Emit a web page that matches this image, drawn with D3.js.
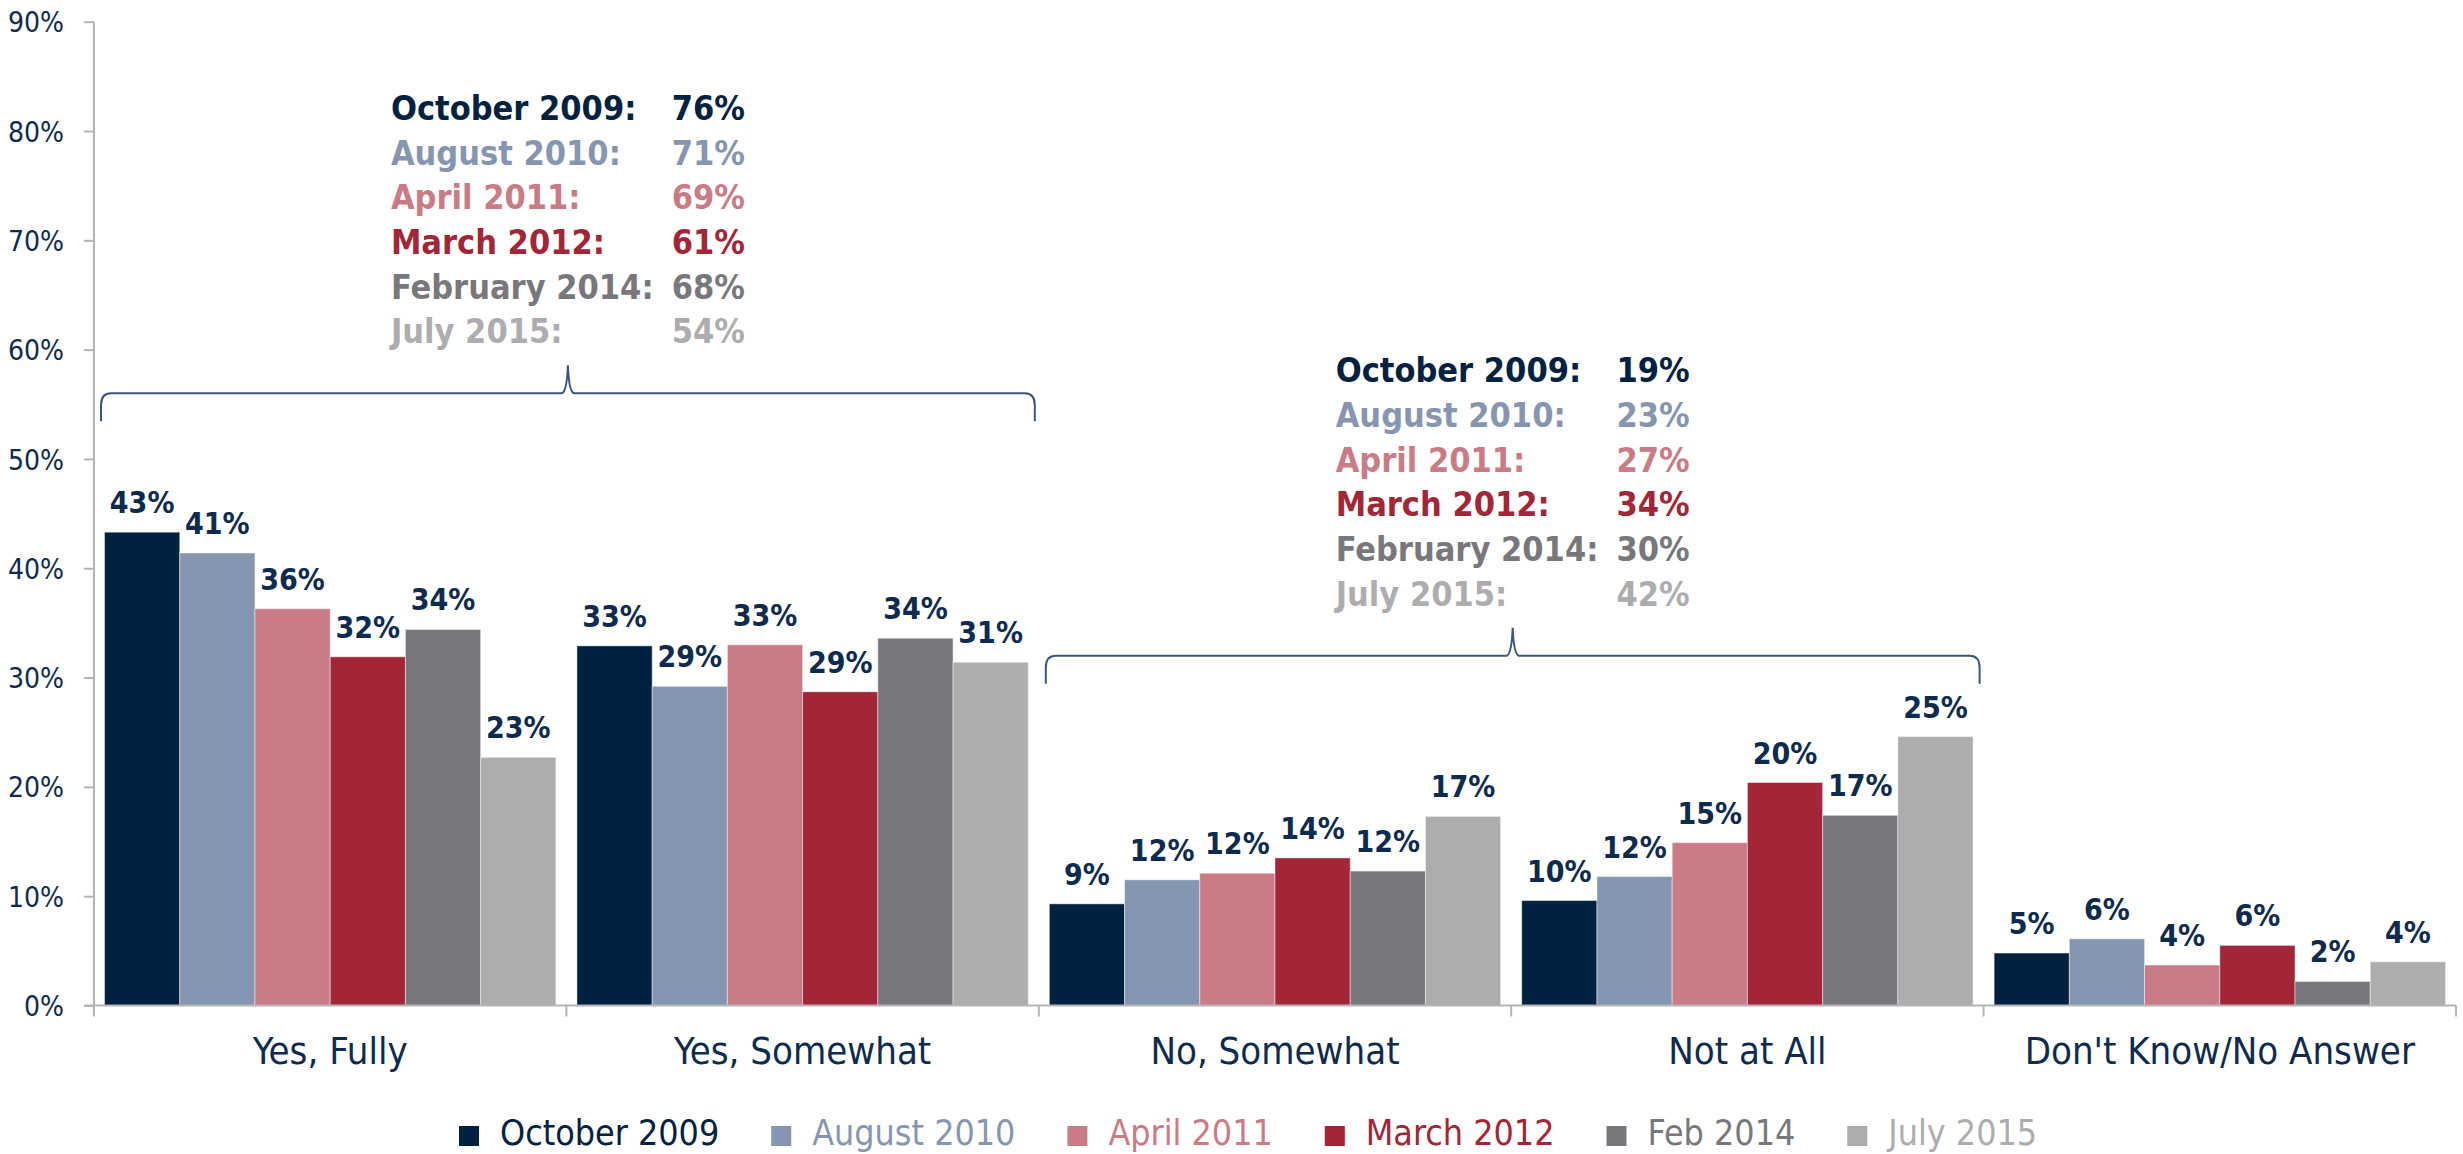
<!DOCTYPE html>
<html>
<head>
<meta charset="utf-8">
<script src="https://cdn.jsdelivr.net/npm/d3@7"></script>
<style>
  html, body { margin: 0; padding: 0; background: #fff; }
  text { font-family: "DejaVu Sans Condensed", "DejaVu Sans", sans-serif; }
</style>
</head>
<body>
<svg id="chart"></svg>
<script>
// answer categories along the x axis
var categories = ["Yes, Fully", "Yes, Somewhat", "No, Somewhat", "Not at All", "Don't Know/No Answer"];

// survey waves (legend names)
var waves = ["October 2009", "August 2010", "April 2011", "March 2012", "Feb 2014", "July 2015"];
var waveNames = ["October 2009:", "August 2010:", "April 2011:", "March 2012:", "February 2014:", "July 2015:"];
var waveColors = ["#00213f", "#8696b0", "#c97b86", "#a22538", "#78787c", "#adadaf"];

// bar heights in percent, one array per wave, in category order
var oct2009 = [43.3, 32.9, 9.3, 9.6, 4.8];
var aug2010 = [41.4, 29.2, 11.5, 11.8, 6.1];
var apr2011 = [36.3, 33.0, 12.1, 14.9, 3.7];
var mar2012 = [31.9, 28.7, 13.5, 20.4, 5.5];
var feb2014 = [34.4, 33.6, 12.3, 17.4, 2.2];
var jul2015 = [22.7, 31.4, 17.3, 24.6, 4.0];

// printed labels on the bars
var oct2009Lbl = [43, 33, 9, 10, 5];
var aug2010Lbl = [41, 29, 12, 12, 6];
var apr2011Lbl = [36, 33, 12, 15, 4];
var mar2012Lbl = [32, 29, 14, 20, 6];
var feb2014Lbl = [34, 34, 12, 17, 2];
var jul2015Lbl = [23, 31, 17, 25, 4];

// totals shown above the braces
var yesTotals = [76, 71, 69, 61, 68, 54];
var noTotals = [19, 23, 27, 34, 30, 42];

var yTicks = [0, 10, 20, 30, 40, 50, 60, 70, 80, 90];

var values = [oct2009, aug2010, apr2011, mar2012, feb2014, jul2015];
var labels = [oct2009Lbl, aug2010Lbl, apr2011Lbl, mar2012Lbl, feb2014Lbl, jul2015Lbl];

function makeChart() {
    var W = 2463, H = 1154;
    var navy = "#0d2b4e";
    var axisGrey = "#b5b5b5";

    var svg = d3.select("#chart").attr("width", W).attr("height", H);

    var x0 = d3.scaleBand().domain(categories).range([94, 2456]);
    var x1 = d3.scaleBand().domain(d3.range(waves.length))
        .range([0, x0.bandwidth()]).paddingInner(0).paddingOuter(0.14);
    var y = d3.scaleLinear().domain([0, 90]).range([1005.5, 21.7]);

    // flatten into one row per bar
    var bars = [];
    categories.forEach(function (c, ci) {
        waves.forEach(function (w, wi) {
            bars.push({ cat: c, wave: wi, v: values[wi][ci], lbl: labels[wi][ci] });
        });
    });

    // y axis
    var yAxis = svg.append("g")
        .attr("transform", "translate(" + x0.range()[0] + ",0)")
        .call(d3.axisLeft(y).tickValues(yTicks).tickSize(10).tickPadding(20)
            .tickFormat(d => d + "%"));
    yAxis.select(".domain").attr("stroke", axisGrey).attr("stroke-width", 2)
        .attr("d", "M0," + y(90) + "V" + (y(0) + 11));
    yAxis.selectAll(".tick line").attr("stroke", axisGrey).attr("stroke-width", 2);
    yAxis.selectAll(".tick text").attr("fill", navy)
        .style("font-size", "28px").attr("dy", "0.36em");

    // bars
    svg.append("g").selectAll("rect")
        .data(bars).enter().append("rect")
        .attr("x", d => x0(d.cat) + x1(d.wave))
        .attr("width", x1.bandwidth())
        .attr("y", d => y(d.v))
        .attr("height", d => y(0) - y(d.v))
        .attr("fill", d => waveColors[d.wave])
        .attr("stroke", "rgba(255,255,255,0.45)").attr("stroke-width", 1);

    // x axis line + category separators
    svg.append("line")
        .attr("x1", x0.range()[0] - 10).attr("x2", x0.range()[1])
        .attr("y1", y(0)).attr("y2", y(0))
        .attr("stroke", axisGrey).attr("stroke-width", 2);
    svg.append("g").selectAll("line")
        .data(categories.slice(1).concat(["end"])).enter().append("line")
        .attr("x1", d => d === "end" ? x0.range()[1] : x0(d))
        .attr("x2", d => d === "end" ? x0.range()[1] : x0(d))
        .attr("y1", y(0)).attr("y2", y(0) + 11)
        .attr("stroke", axisGrey).attr("stroke-width", 2);

    // category names
    svg.append("g").selectAll("text")
        .data(categories).enter().append("text")
        .attr("x", d => x0(d) + x0.bandwidth() / 2)
        .attr("y", 1064)
        .attr("text-anchor", "middle")
        .attr("fill", navy)
        .style("font-size", "38px")
        .text(d => d);

    // value labels
    svg.append("g").selectAll("text")
        .data(bars).enter().append("text")
        .attr("x", d => x0(d.cat) + x1(d.wave) + x1.bandwidth() / 2)
        .attr("y", d => y(d.v) - 19)
        .attr("text-anchor", "middle")
        .attr("fill", navy)
        .style("font-size", "30px").style("font-weight", "bold")
        .text(d => d.lbl + "%");

    // curly braces with the combined totals
    function brace(catA, catB, level, totals) {
        var xa = x0(catA) + 7, xb = x0(catB) + x0.bandwidth() - 4;
        var xm = (xa + xb) / 2, ly = y(level);
        var path = d3.path();
        path.moveTo(xa, ly + 28);
        path.lineTo(xa, ly + 12);
        path.quadraticCurveTo(xa, ly, xa + 10, ly);
        path.lineTo(xm - 6, ly);
        path.quadraticCurveTo(xm - 1, ly - 2, xm, ly - 28);
        path.quadraticCurveTo(xm + 1, ly - 2, xm + 6, ly);
        path.lineTo(xb - 10, ly);
        path.quadraticCurveTo(xb, ly, xb, ly + 12);
        path.lineTo(xb, ly + 28);
        svg.append("path").attr("d", path.toString())
            .attr("fill", "none").attr("stroke", "#3b587a").attr("stroke-width", 2);

        var g = svg.append("g");
        var rowH = 44.7, last = ly - 50;
        totals.forEach(function (t, i) {
            var by = last - (totals.length - 1 - i) * rowH;
            g.append("text").attr("x", xm - 177).attr("y", by)
                .attr("fill", waveColors[i])
                .style("font-size", "34px").style("font-weight", "bold")
                .text(waveNames[i]);
            g.append("text").attr("x", xm + 177).attr("y", by)
                .attr("text-anchor", "end")
                .attr("fill", waveColors[i])
                .style("font-size", "34px").style("font-weight", "bold")
                .text(t + "%");
        });
    }
    brace("Yes, Fully", "Yes, Somewhat", 56, yesTotals);
    brace("No, Somewhat", "Not at All", 32, noTotals);

    // legend
    var leg = svg.append("g");
    var lx = 459;
    waves.forEach(function (w, i) {
        leg.append("rect").attr("x", lx).attr("y", 1126)
            .attr("width", 20).attr("height", 20).attr("fill", waveColors[i]);
        var t = leg.append("text").attr("x", lx + 41).attr("y", 1145)
            .attr("fill", waveColors[i])
            .style("font-size", "35.5px")
            .text(w);
        lx += 41 + t.node().getComputedTextLength() + 52;
    });
}

makeChart();
</script>
</body>
</html>
